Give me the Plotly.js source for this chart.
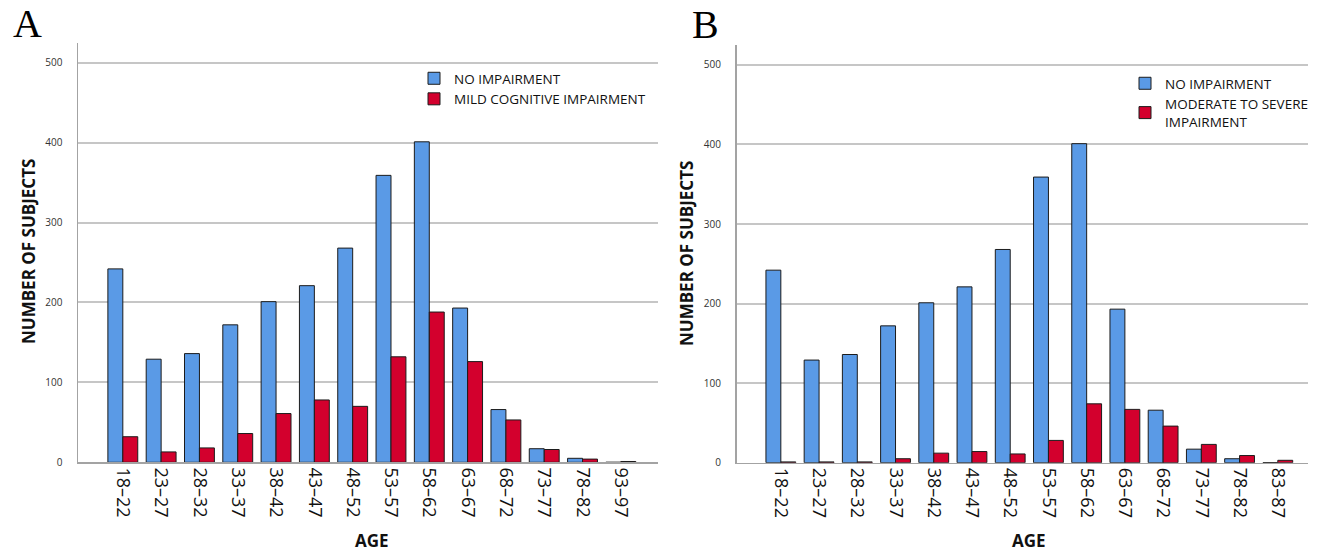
<!DOCTYPE html>
<html>
<head>
<meta charset="utf-8">
<script src="https://cdn.plot.ly/plotly-3.0.1.min.js"></script>
<style>
  html, body { margin: 0; padding: 0; background: #fff; }
  #chart { width: 1325px; height: 554px; }
</style>
</head>
<body>
<div id="chart"></div>
<script>
// age groups (panel A ends at 93-97, panel B at 83-87)
var agesA = ['18–22', '23–27', '28–32', '33–37', '38–42', '43–47', '48–52',
             '53–57', '58–62', '63–67', '68–72', '73–77', '78–82', '93–97'];
var agesB = ['18–22', '23–27', '28–32', '33–37', '38–42', '43–47', '48–52',
             '53–57', '58–62', '63–67', '68–72', '73–77', '78–82', '83–87'];

// number of subjects
var noImpairmentA = [242, 129, 136, 172, 201, 221, 268, 359, 401, 193, 66, 17, 5, 0];
var mildImpairmentA = [32, 13, 18, 36, 61, 78, 70, 132, 188, 126, 53, 16, 4, 1];
var noImpairmentB = [242, 129, 136, 172, 201, 221, 268, 359, 401, 193, 66, 17, 5, 0];
var severeImpairmentB = [1, 1, 1, 5, 12, 14, 11, 28, 74, 67, 46, 23, 9, 3];

var yTicks = [0, 100, 200, 300, 400, 500];

var W = 1325, H = 554;
var BLUE = '#5a9ae6';
var RED = '#d3002d';
var EDGE = '#1c1c1c';

function px(x) { return x / W; }
function py(y) { return 1 - y / H; }

function barTrace(name, x, y, color, xa, ya, legend) {
    return {
        type: 'bar',
        name: name,
        x: x,
        y: y,
        xaxis: xa,
        yaxis: ya,
        legend: legend,
        marker: { color: color, line: { color: EDGE, width: 1 } },
        hoverinfo: 'x+y+name'
    };
}

var data = [
    barTrace('NO IMPAIRMENT', agesA, noImpairmentA, BLUE, 'x', 'y', 'legend'),
    barTrace('MILD COGNITIVE IMPAIRMENT', agesA, mildImpairmentA, RED, 'x', 'y', 'legend'),
    barTrace('NO IMPAIRMENT', agesB, noImpairmentB, BLUE, 'x2', 'y2', 'legend2'),
    barTrace('MODERATE TO SEVERE<br>IMPAIRMENT', agesB, severeImpairmentB, RED, 'x2', 'y2', 'legend2')
];

function xAxis(domain, range, anchor) {
    return {
        type: 'category',
        domain: domain,
        range: range,
        anchor: anchor,
        showgrid: false,
        zeroline: false,
        showline: true,
        linecolor: '#a3a3a3',
        linewidth: 1.5,
        ticks: '',
        tickangle: 90,
        tickfont: { family: 'Open Sans', size: 18, color: '#111' },
        fixedrange: true
    };
}

function yAxis(domain, anchor) {
    return {
        domain: domain,
        range: [0, 525],
        anchor: anchor,
        tickvals: yTicks,
        showgrid: true,
        gridcolor: '#c6c6c6',
        gridwidth: 2,
        zeroline: false,
        showline: true,
        linecolor: '#a3a3a3',
        linewidth: 1.5,
        ticks: '',
        ticklabelstandoff: 12,
        tickfont: { family: 'Open Sans', size: 10, color: '#333' },
        fixedrange: true
    };
}

var titleFont = { family: 'Open Sans', size: 17, color: '#111', weight: 'bold' };
var letterFont = { family: 'Liberation Serif', size: 40, color: '#000' };
var legendFont = { family: 'Open Sans', size: 13.5, color: '#111' };

function note(text, x, y, font, angle) {
    return {
        text: text, x: px(x), y: py(y), xref: 'paper', yref: 'paper',
        xanchor: 'center', yanchor: 'middle', textangle: angle || 0,
        showarrow: false, font: font
    };
}

var layout = {
    width: W,
    height: H,
    margin: { l: 0, r: 0, t: 0, b: 0 },
    paper_bgcolor: '#fff',
    plot_bgcolor: '#fff',
    barmode: 'group',
    bargap: 0.22,
    bargroupgap: 0,
    xaxis: xAxis([px(78), px(658)], [-1.17, 13.97], 'y'),
    yaxis: yAxis([py(462.3), py(42.7)], 'x'),
    xaxis2: xAxis([px(736.5), px(1308)], [-1.16, 13.79], 'y2'),
    yaxis2: yAxis([py(462.7), py(45)], 'x2'),
    legend: {
        x: px(414), y: py(63), xanchor: 'left', yanchor: 'top',
        bgcolor: 'rgba(0,0,0,0)', font: legendFont, tracegroupgap: 0
    },
    legend2: {
        x: px(1125), y: py(68), xanchor: 'left', yanchor: 'top',
        bgcolor: 'rgba(0,0,0,0)', font: legendFont, tracegroupgap: 0
    },
    annotations: [
        note('A', 27, 24, letterFont),
        note('B', 705, 25, letterFont),
        note('NUMBER OF SUBJECTS', 28, 252, titleFont, -90),
        note('NUMBER OF SUBJECTS', 686, 254, titleFont, -90),
        note('AGE', 372, 540, titleFont),
        note('AGE', 1029, 540, titleFont)
    ]
};

Plotly.newPlot('chart', data, layout, { displayModeBar: false, staticPlot: true });
</script>
</body>
</html>
